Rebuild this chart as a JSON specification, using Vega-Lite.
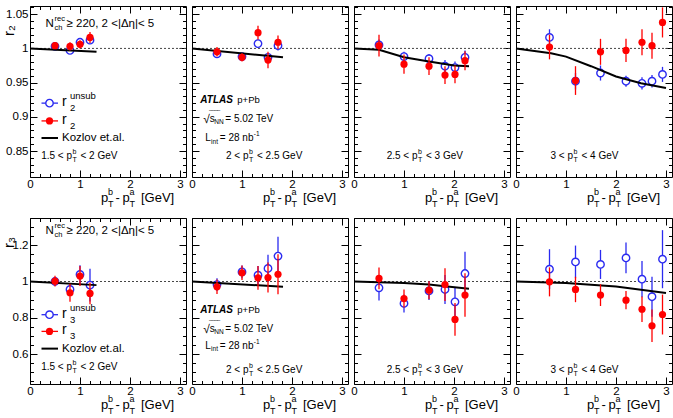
{
  "$schema": "https://vega.github.io/schema/vega-lite/v6.json",
  "padding": {"left": 0, "top": 5, "right": 0, "bottom": 0},
  "background": "white",
  "config": {
    "view": {"stroke": "black", "strokeWidth": 1},
    "axis": {"domain": false, "grid": false, "ticks": true, "tickColor": "black", "tickWidth": 1, "labelFont": "Liberation Sans", "labelFontSize": 11.5, "labelColor": "black", "labelFlush": false, "labelOverlap": false, "titleFont": "Liberation Sans", "titleColor": "black"},
    "text": {"font": "Liberation Sans", "color": "black"}
  },
  "datasets": {
    "one": [{}],
    "pts": [
      {"row": "r2", "bin": 1, "kind": "unsub", "x": 0.5, "v": 1.003, "lo": 0.999, "hi": 1.007},
      {"row": "r2", "bin": 1, "kind": "unsub", "x": 0.8, "v": 0.997, "lo": 0.993, "hi": 1.001},
      {"row": "r2", "bin": 1, "kind": "unsub", "x": 1.0, "v": 1.009, "lo": 1.005, "hi": 1.013},
      {"row": "r2", "bin": 1, "kind": "unsub", "x": 1.2, "v": 1.012, "lo": 1.007, "hi": 1.017},
      {"row": "r2", "bin": 1, "kind": "sub", "x": 0.5, "v": 1.004, "lo": 0.999, "hi": 1.009},
      {"row": "r2", "bin": 1, "kind": "sub", "x": 0.8, "v": 1.003, "lo": 0.997, "hi": 1.009},
      {"row": "r2", "bin": 1, "kind": "sub", "x": 1.0, "v": 1.006, "lo": 1.0, "hi": 1.012},
      {"row": "r2", "bin": 1, "kind": "sub", "x": 1.2, "v": 1.016, "lo": 1.008, "hi": 1.024},
      {"row": "r2", "bin": 2, "kind": "unsub", "x": 0.5, "v": 0.992, "lo": 0.987, "hi": 0.997},
      {"row": "r2", "bin": 2, "kind": "unsub", "x": 1.0, "v": 0.988, "lo": 0.984, "hi": 0.992},
      {"row": "r2", "bin": 2, "kind": "unsub", "x": 1.32, "v": 1.007, "lo": 1.001, "hi": 1.013},
      {"row": "r2", "bin": 2, "kind": "unsub", "x": 1.52, "v": 0.987, "lo": 0.981, "hi": 0.993},
      {"row": "r2", "bin": 2, "kind": "unsub", "x": 1.72, "v": 1.004, "lo": 0.997, "hi": 1.011},
      {"row": "r2", "bin": 2, "kind": "sub", "x": 0.5, "v": 0.995, "lo": 0.988, "hi": 1.002},
      {"row": "r2", "bin": 2, "kind": "sub", "x": 1.0, "v": 0.987, "lo": 0.981, "hi": 0.993},
      {"row": "r2", "bin": 2, "kind": "sub", "x": 1.32, "v": 1.023, "lo": 1.013, "hi": 1.033},
      {"row": "r2", "bin": 2, "kind": "sub", "x": 1.52, "v": 0.983, "lo": 0.971, "hi": 0.995},
      {"row": "r2", "bin": 2, "kind": "sub", "x": 1.72, "v": 1.009, "lo": 0.999, "hi": 1.019},
      {"row": "r2", "bin": 3, "kind": "unsub", "x": 0.5, "v": 1.005, "lo": 0.997, "hi": 1.013},
      {"row": "r2", "bin": 3, "kind": "unsub", "x": 1.0, "v": 0.988, "lo": 0.981, "hi": 0.995},
      {"row": "r2", "bin": 3, "kind": "unsub", "x": 1.5, "v": 0.985, "lo": 0.978, "hi": 0.992},
      {"row": "r2", "bin": 3, "kind": "unsub", "x": 1.82, "v": 0.974, "lo": 0.965, "hi": 0.983},
      {"row": "r2", "bin": 3, "kind": "unsub", "x": 2.02, "v": 0.972, "lo": 0.963, "hi": 0.981},
      {"row": "r2", "bin": 3, "kind": "unsub", "x": 2.22, "v": 0.987, "lo": 0.977, "hi": 0.997},
      {"row": "r2", "bin": 3, "kind": "sub", "x": 0.5, "v": 1.004, "lo": 0.988, "hi": 1.02},
      {"row": "r2", "bin": 3, "kind": "sub", "x": 1.0, "v": 0.977, "lo": 0.963, "hi": 0.991},
      {"row": "r2", "bin": 3, "kind": "sub", "x": 1.5, "v": 0.974, "lo": 0.961, "hi": 0.987},
      {"row": "r2", "bin": 3, "kind": "sub", "x": 1.82, "v": 0.961, "lo": 0.948, "hi": 0.974},
      {"row": "r2", "bin": 3, "kind": "sub", "x": 2.02, "v": 0.962, "lo": 0.949, "hi": 0.975},
      {"row": "r2", "bin": 3, "kind": "sub", "x": 2.22, "v": 0.982, "lo": 0.968, "hi": 0.996},
      {"row": "r2", "bin": 4, "kind": "unsub", "x": 0.67, "v": 1.016, "lo": 1.004, "hi": 1.028},
      {"row": "r2", "bin": 4, "kind": "unsub", "x": 1.19, "v": 0.952, "lo": 0.94, "hi": 0.964},
      {"row": "r2", "bin": 4, "kind": "unsub", "x": 1.69, "v": 0.964, "lo": 0.953, "hi": 0.975},
      {"row": "r2", "bin": 4, "kind": "unsub", "x": 2.2, "v": 0.952, "lo": 0.944, "hi": 0.96},
      {"row": "r2", "bin": 4, "kind": "unsub", "x": 2.52, "v": 0.949, "lo": 0.94, "hi": 0.958},
      {"row": "r2", "bin": 4, "kind": "unsub", "x": 2.72, "v": 0.952, "lo": 0.943, "hi": 0.961},
      {"row": "r2", "bin": 4, "kind": "unsub", "x": 2.93, "v": 0.962, "lo": 0.951, "hi": 0.973},
      {"row": "r2", "bin": 4, "kind": "sub", "x": 0.67, "v": 1.002, "lo": 0.984, "hi": 1.02},
      {"row": "r2", "bin": 4, "kind": "sub", "x": 1.19, "v": 0.953, "lo": 0.932, "hi": 0.974},
      {"row": "r2", "bin": 4, "kind": "sub", "x": 1.69, "v": 0.995, "lo": 0.976, "hi": 1.014},
      {"row": "r2", "bin": 4, "kind": "sub", "x": 2.2, "v": 0.997, "lo": 0.98, "hi": 1.014},
      {"row": "r2", "bin": 4, "kind": "sub", "x": 2.52, "v": 1.009, "lo": 0.99, "hi": 1.028},
      {"row": "r2", "bin": 4, "kind": "sub", "x": 2.72, "v": 1.004, "lo": 0.985, "hi": 1.023},
      {"row": "r2", "bin": 4, "kind": "sub", "x": 2.93, "v": 1.038, "lo": 1.016, "hi": 1.06},
      {"row": "r3", "bin": 1, "kind": "unsub", "x": 0.5, "v": 1.0, "lo": 0.98, "hi": 1.02},
      {"row": "r3", "bin": 1, "kind": "unsub", "x": 0.8, "v": 0.956, "lo": 0.926, "hi": 0.986},
      {"row": "r3", "bin": 1, "kind": "unsub", "x": 1.0, "v": 1.039, "lo": 0.989, "hi": 1.089},
      {"row": "r3", "bin": 1, "kind": "unsub", "x": 1.2, "v": 0.98, "lo": 0.89, "hi": 1.07},
      {"row": "r3", "bin": 1, "kind": "sub", "x": 0.5, "v": 1.002, "lo": 0.972, "hi": 1.032},
      {"row": "r3", "bin": 1, "kind": "sub", "x": 0.8, "v": 0.938, "lo": 0.888, "hi": 0.988},
      {"row": "r3", "bin": 1, "kind": "sub", "x": 1.0, "v": 1.03, "lo": 0.975, "hi": 1.085},
      {"row": "r3", "bin": 1, "kind": "sub", "x": 1.2, "v": 0.934, "lo": 0.874, "hi": 0.994},
      {"row": "r3", "bin": 2, "kind": "unsub", "x": 0.5, "v": 0.983, "lo": 0.948, "hi": 1.018},
      {"row": "r3", "bin": 2, "kind": "unsub", "x": 1.0, "v": 1.053, "lo": 1.018, "hi": 1.088},
      {"row": "r3", "bin": 2, "kind": "unsub", "x": 1.32, "v": 1.035, "lo": 0.985, "hi": 1.085},
      {"row": "r3", "bin": 2, "kind": "unsub", "x": 1.52, "v": 1.072, "lo": 0.997, "hi": 1.147},
      {"row": "r3", "bin": 2, "kind": "unsub", "x": 1.72, "v": 1.14, "lo": 1.034, "hi": 1.246},
      {"row": "r3", "bin": 2, "kind": "sub", "x": 0.5, "v": 0.971, "lo": 0.931, "hi": 1.011},
      {"row": "r3", "bin": 2, "kind": "sub", "x": 1.0, "v": 1.048, "lo": 1.008, "hi": 1.088},
      {"row": "r3", "bin": 2, "kind": "sub", "x": 1.32, "v": 1.02, "lo": 0.955, "hi": 1.085},
      {"row": "r3", "bin": 2, "kind": "sub", "x": 1.52, "v": 1.022, "lo": 0.939, "hi": 1.105},
      {"row": "r3", "bin": 2, "kind": "sub", "x": 1.72, "v": 1.04, "lo": 0.93, "hi": 1.15},
      {"row": "r3", "bin": 3, "kind": "unsub", "x": 0.5, "v": 0.965, "lo": 0.895, "hi": 1.035},
      {"row": "r3", "bin": 3, "kind": "unsub", "x": 1.0, "v": 0.879, "lo": 0.829, "hi": 0.929},
      {"row": "r3", "bin": 3, "kind": "unsub", "x": 1.5, "v": 0.948, "lo": 0.898, "hi": 0.998},
      {"row": "r3", "bin": 3, "kind": "unsub", "x": 1.82, "v": 0.956, "lo": 0.876, "hi": 1.036},
      {"row": "r3", "bin": 3, "kind": "unsub", "x": 2.02, "v": 0.888, "lo": 0.808, "hi": 0.968},
      {"row": "r3", "bin": 3, "kind": "unsub", "x": 2.22, "v": 1.044, "lo": 0.924, "hi": 1.164},
      {"row": "r3", "bin": 3, "kind": "sub", "x": 0.5, "v": 1.017, "lo": 0.957, "hi": 1.077},
      {"row": "r3", "bin": 3, "kind": "sub", "x": 1.0, "v": 0.906, "lo": 0.856, "hi": 0.956},
      {"row": "r3", "bin": 3, "kind": "sub", "x": 1.5, "v": 0.952, "lo": 0.902, "hi": 1.002},
      {"row": "r3", "bin": 3, "kind": "sub", "x": 1.82, "v": 0.983, "lo": 0.893, "hi": 1.073},
      {"row": "r3", "bin": 3, "kind": "sub", "x": 2.02, "v": 0.791, "lo": 0.701, "hi": 0.881},
      {"row": "r3", "bin": 3, "kind": "sub", "x": 2.22, "v": 0.925, "lo": 0.805, "hi": 1.045},
      {"row": "r3", "bin": 4, "kind": "unsub", "x": 0.67, "v": 1.068, "lo": 0.958, "hi": 1.178},
      {"row": "r3", "bin": 4, "kind": "unsub", "x": 1.19, "v": 1.108, "lo": 1.018, "hi": 1.198},
      {"row": "r3", "bin": 4, "kind": "unsub", "x": 1.69, "v": 1.094, "lo": 1.014, "hi": 1.174},
      {"row": "r3", "bin": 4, "kind": "unsub", "x": 2.2, "v": 1.13, "lo": 1.045, "hi": 1.215},
      {"row": "r3", "bin": 4, "kind": "unsub", "x": 2.52, "v": 1.013, "lo": 0.913, "hi": 1.113},
      {"row": "r3", "bin": 4, "kind": "unsub", "x": 2.72, "v": 0.916, "lo": 0.806, "hi": 1.026},
      {"row": "r3", "bin": 4, "kind": "unsub", "x": 2.93, "v": 1.123, "lo": 0.963, "hi": 1.283},
      {"row": "r3", "bin": 4, "kind": "sub", "x": 0.67, "v": 0.998, "lo": 0.918, "hi": 1.078},
      {"row": "r3", "bin": 4, "kind": "sub", "x": 1.19, "v": 0.956, "lo": 0.886, "hi": 1.026},
      {"row": "r3", "bin": 4, "kind": "sub", "x": 1.69, "v": 0.925, "lo": 0.865, "hi": 0.985},
      {"row": "r3", "bin": 4, "kind": "sub", "x": 2.2, "v": 0.897, "lo": 0.847, "hi": 0.947},
      {"row": "r3", "bin": 4, "kind": "sub", "x": 2.52, "v": 0.847, "lo": 0.777, "hi": 0.917},
      {"row": "r3", "bin": 4, "kind": "sub", "x": 2.72, "v": 0.756, "lo": 0.666, "hi": 0.846},
      {"row": "r3", "bin": 4, "kind": "sub", "x": 2.93, "v": 0.818, "lo": 0.708, "hi": 0.928}
    ],
    "koz": [
      {"row": "r2", "bin": 1, "x": 0, "v": 1.0}, {"row": "r2", "bin": 1, "x": 1.33, "v": 0.995},
      {"row": "r2", "bin": 2, "x": 0, "v": 1.0}, {"row": "r2", "bin": 2, "x": 1.82, "v": 0.987},
      {"row": "r2", "bin": 3, "x": 0, "v": 1.0}, {"row": "r2", "bin": 3, "x": 0.5, "v": 0.998}, {"row": "r2", "bin": 3, "x": 1.0, "v": 0.987}, {"row": "r2", "bin": 3, "x": 1.5, "v": 0.981}, {"row": "r2", "bin": 3, "x": 2.0, "v": 0.975}, {"row": "r2", "bin": 3, "x": 2.3, "v": 0.974},
      {"row": "r2", "bin": 4, "x": 0, "v": 1.0}, {"row": "r2", "bin": 4, "x": 0.7, "v": 0.993}, {"row": "r2", "bin": 4, "x": 1.0, "v": 0.988}, {"row": "r2", "bin": 4, "x": 1.5, "v": 0.974}, {"row": "r2", "bin": 4, "x": 2.0, "v": 0.959}, {"row": "r2", "bin": 4, "x": 2.5, "v": 0.949}, {"row": "r2", "bin": 4, "x": 3.0, "v": 0.942},
      {"row": "r3", "bin": 1, "x": 0, "v": 1.0}, {"row": "r3", "bin": 1, "x": 1.33, "v": 0.98},
      {"row": "r3", "bin": 2, "x": 0, "v": 1.0}, {"row": "r3", "bin": 2, "x": 1.82, "v": 0.971},
      {"row": "r3", "bin": 3, "x": 0, "v": 1.0}, {"row": "r3", "bin": 3, "x": 1.0, "v": 0.992}, {"row": "r3", "bin": 3, "x": 1.5, "v": 0.983}, {"row": "r3", "bin": 3, "x": 1.82, "v": 0.974}, {"row": "r3", "bin": 3, "x": 2.3, "v": 0.96},
      {"row": "r3", "bin": 4, "x": 0, "v": 1.0}, {"row": "r3", "bin": 4, "x": 1.0, "v": 0.992}, {"row": "r3", "bin": 4, "x": 2.0, "v": 0.972}, {"row": "r3", "bin": 4, "x": 3.0, "v": 0.937}
    ]
  },
  "spacing": 7,
  "vconcat": [
    {
      "bounds": "flush",
      "spacing": 6,
      "hconcat": [
        {
          "width": 156, "height": 171,
          "resolve": {"axis": {"x": "independent", "y": "independent"}},
          "layer": [
            {"data": {"name": "one"}, "mark": {"type": "rule", "strokeDash": [2, 2], "color": "#444", "strokeWidth": 1},
             "encoding": {"y": {"datum": 1, "type": "quantitative", "scale": {"domain": [0.812, 1.062], "nice": false, "zero": false},
               "axis": {"orient": "left", "values": [0.85, 0.9, 0.95, 1, 1.05], "format": "~g", "tickSize": -7, "labelPadding": 9, "title": "r₂", "titleX": -22, "titleY": 24, "titleAngle": -90, "titleAlign": "center", "titleBaseline": "middle", "titleFontSize": 15, "titleFontWeight": "normal"}}}},
            {"data": {"name": "pts"}, "transform": [{"filter": "datum.row == 'r2' && datum.bin == 1 && datum.kind == 'unsub'"}],
             "mark": {"type": "rule", "color": "#2a2af0", "strokeWidth": 1.3},
             "encoding": {"x": {"field": "x", "type": "quantitative", "scale": {"domain": [0, 3.12], "nice": false, "zero": false}, "axis": {"orient": "top", "values": [0, 1, 2, 3], "tickSize": -7, "labels": false, "title": null}},
               "y": {"field": "lo", "type": "quantitative", "axis": {"orient": "left", "values": [0.82, 0.83, 0.84, 0.85, 0.86, 0.87, 0.88, 0.89, 0.9, 0.91, 0.92, 0.93, 0.94, 0.95, 0.96, 0.97, 0.98, 0.99, 1, 1.01, 1.02, 1.03, 1.04, 1.05, 1.06], "tickSize": -3.5, "labels": false, "title": null}},
               "y2": {"field": "hi"}}},
            {"data": {"name": "pts"}, "transform": [{"filter": "datum.row == 'r2' && datum.bin == 1 && datum.kind == 'unsub'"}],
             "mark": {"type": "point", "shape": "circle", "filled": true, "fill": "white", "stroke": "#2a2af0", "strokeWidth": 1.4, "size": 55, "opacity": 1},
             "encoding": {"x": {"field": "x", "type": "quantitative", "axis": {"orient": "top", "values": [0.2, 0.4, 0.6, 0.8, 1.2, 1.4, 1.6, 1.8, 2.2, 2.4, 2.6, 2.8], "tickSize": -3.5, "labels": false, "title": null}},
               "y": {"field": "v", "type": "quantitative", "axis": null}}},
            {"data": {"name": "koz"}, "transform": [{"filter": "datum.row == 'r2' && datum.bin == 1"}],
             "mark": {"type": "line", "color": "black", "strokeWidth": 2},
             "encoding": {"x": {"field": "x", "type": "quantitative", "axis": {"orient": "bottom", "values": [0, 1, 2, 3], "format": "d", "tickSize": -7, "labelPadding": 8, "title": null}},
               "y": {"field": "v", "type": "quantitative", "axis": {"orient": "right", "values": [0.85, 0.9, 0.95, 1, 1.05], "tickSize": -7, "labels": false, "title": null}}}},
            {"data": {"name": "pts"}, "transform": [{"filter": "datum.row == 'r2' && datum.bin == 1 && datum.kind == 'sub'"}],
             "mark": {"type": "rule", "color": "#ff0000", "strokeWidth": 1.3},
             "encoding": {"x": {"field": "x", "type": "quantitative", "axis": {"orient": "bottom", "values": [0.2, 0.4, 0.6, 0.8, 1.2, 1.4, 1.6, 1.8, 2.2, 2.4, 2.6, 2.8], "tickSize": -3.5, "labels": false, "title": null}},
               "y": {"field": "lo", "type": "quantitative", "axis": {"orient": "right", "values": [0.82, 0.83, 0.84, 0.85, 0.86, 0.87, 0.88, 0.89, 0.9, 0.91, 0.92, 0.93, 0.94, 0.95, 0.96, 0.97, 0.98, 0.99, 1, 1.01, 1.02, 1.03, 1.04, 1.05, 1.06], "tickSize": -3.5, "labels": false, "title": null}},
               "y2": {"field": "hi"}}},
            {"data": {"name": "pts"}, "transform": [{"filter": "datum.row == 'r2' && datum.bin == 1 && datum.kind == 'sub'"}],
             "mark": {"type": "point", "shape": "circle", "filled": true, "color": "#ff0000", "size": 52, "opacity": 1},
             "encoding": {"x": {"field": "x", "type": "quantitative", "axis": null}, "y": {"field": "v", "type": "quantitative", "axis": null}}},
            {"data": {"name": "one"}, "encoding": {"x": {"datum": 0.31, "type": "quantitative", "axis": null}, "y": {"datum": 1.036, "type": "quantitative", "axis": null}},
             "layer": [
               {"mark": {"type": "text", "text": "N", "align": "left", "baseline": "middle", "fontSize": 11.5}},
               {"mark": {"type": "text", "text": "rec", "align": "left", "baseline": "middle", "fontSize": 7.5, "dx": 9, "dy": -5}},
               {"mark": {"type": "text", "text": "ch", "align": "left", "baseline": "middle", "fontSize": 7.5, "dx": 9, "dy": 4}},
               {"mark": {"type": "text", "text": "≥ 220, 2 <|Δη|< 5", "align": "left", "baseline": "middle", "fontSize": 11.5, "dx": 21}}
             ]},
            {"data": {"name": "one"}, "mark": {"type": "rule", "color": "#2a2af0", "strokeWidth": 1.3},
             "encoding": {"x": {"datum": 0.23, "type": "quantitative", "axis": null}, "x2": {"datum": 0.56}, "y": {"datum": 0.92, "type": "quantitative", "axis": null}}},
            {"data": {"name": "one"}, "mark": {"type": "point", "shape": "circle", "filled": true, "fill": "white", "stroke": "#2a2af0", "strokeWidth": 1.4, "size": 55, "opacity": 1},
             "encoding": {"x": {"datum": 0.39, "type": "quantitative", "axis": null}, "y": {"datum": 0.92, "type": "quantitative", "axis": null}}},
            {"data": {"name": "one"}, "mark": {"type": "rule", "color": "#ff0000", "strokeWidth": 1.3},
             "encoding": {"x": {"datum": 0.23, "type": "quantitative", "axis": null}, "x2": {"datum": 0.56}, "y": {"datum": 0.894, "type": "quantitative", "axis": null}}},
            {"data": {"name": "one"}, "mark": {"type": "point", "shape": "circle", "filled": true, "color": "#ff0000", "size": 52, "opacity": 1},
             "encoding": {"x": {"datum": 0.39, "type": "quantitative", "axis": null}, "y": {"datum": 0.894, "type": "quantitative", "axis": null}}},
            {"data": {"name": "one"}, "mark": {"type": "rule", "color": "black", "strokeWidth": 2},
             "encoding": {"x": {"datum": 0.23, "type": "quantitative", "axis": null}, "x2": {"datum": 0.56}, "y": {"datum": 0.869, "type": "quantitative", "axis": null}}},
            {"data": {"name": "one"}, "encoding": {"x": {"datum": 0.64, "type": "quantitative", "axis": null}, "y": {"datum": 0.92, "type": "quantitative", "axis": null}},
             "layer": [
               {"mark": {"type": "text", "text": "r", "align": "left", "baseline": "middle", "fontSize": 14, "dy": -1}},
               {"mark": {"type": "text", "text": "unsub", "align": "left", "baseline": "middle", "fontSize": 9.5, "dx": 8, "dy": -7}},
               {"mark": {"type": "text", "text": "2", "align": "left", "baseline": "middle", "fontSize": 9.5, "dx": 8, "dy": 5}}
             ]},
            {"data": {"name": "one"}, "encoding": {"x": {"datum": 0.64, "type": "quantitative", "axis": null}, "y": {"datum": 0.894, "type": "quantitative", "axis": null}},
             "layer": [
               {"mark": {"type": "text", "text": "r", "align": "left", "baseline": "middle", "fontSize": 14, "dy": -1}},
               {"mark": {"type": "text", "text": "2", "align": "left", "baseline": "middle", "fontSize": 9.5, "dx": 8, "dy": 5}}
             ]},
            {"data": {"name": "one"}, "mark": {"type": "text", "text": "Kozlov et.al.", "align": "left", "baseline": "middle", "fontSize": 11.5},
             "encoding": {"x": {"datum": 0.64, "type": "quantitative", "axis": null}, "y": {"datum": 0.869, "type": "quantitative", "axis": null}}},
            {"data": {"name": "one"}, "encoding": {"x": {"datum": 0.84, "type": "quantitative", "axis": null}, "y": {"datum": 0.842, "type": "quantitative", "axis": null}},
             "layer": [
               {"mark": {"type": "text", "text": "1.5 < p", "align": "right", "baseline": "middle", "fontSize": 10}},
               {"mark": {"type": "text", "text": "b", "align": "left", "baseline": "middle", "fontSize": 7, "dx": 0.5, "dy": -4}},
               {"mark": {"type": "text", "text": "T", "align": "left", "baseline": "middle", "fontSize": 7, "dx": 0.5, "dy": 4}},
               {"mark": {"type": "text", "text": "< 2 GeV", "align": "left", "baseline": "middle", "fontSize": 10, "dx": 8.5}}
             ]},
            {"data": {"name": "one"}, "encoding": {"x": {"datum": 1.42, "type": "quantitative", "axis": null}, "y": {"datum": 0.812, "type": "quantitative", "axis": null}},
             "layer": [
               {"mark": {"type": "text", "text": "p", "align": "left", "baseline": "middle", "fontSize": 13, "dy": 21}},
               {"mark": {"type": "text", "text": "b", "align": "left", "baseline": "middle", "fontSize": 9, "dx": 7, "dy": 15}},
               {"mark": {"type": "text", "text": "T", "align": "left", "baseline": "middle", "fontSize": 9, "dx": 7, "dy": 27}},
               {"mark": {"type": "text", "text": "-", "align": "left", "baseline": "middle", "fontSize": 13, "dx": 14.5, "dy": 21}},
               {"mark": {"type": "text", "text": "p", "align": "left", "baseline": "middle", "fontSize": 13, "dx": 21.5, "dy": 21}},
               {"mark": {"type": "text", "text": "a", "align": "left", "baseline": "middle", "fontSize": 9, "dx": 28.5, "dy": 15}},
               {"mark": {"type": "text", "text": "T", "align": "left", "baseline": "middle", "fontSize": 9, "dx": 28.5, "dy": 27}},
               {"mark": {"type": "text", "text": "[GeV]", "align": "left", "baseline": "middle", "fontSize": 13, "dx": 40, "dy": 21}}
             ]}
          ]
        },
        {
          "width": 156, "height": 171,
          "resolve": {"axis": {"x": "independent", "y": "independent"}},
          "layer": [
            {"data": {"name": "one"}, "mark": {"type": "rule", "strokeDash": [2, 2], "color": "#444", "strokeWidth": 1},
             "encoding": {"y": {"datum": 1, "type": "quantitative", "scale": {"domain": [0.812, 1.062], "nice": false, "zero": false},
               "axis": {"orient": "left", "values": [0.85, 0.9, 0.95, 1, 1.05], "tickSize": -7, "labels": false, "title": null}}}},
            {"data": {"name": "pts"}, "transform": [{"filter": "datum.row == 'r2' && datum.bin == 2 && datum.kind == 'unsub'"}],
             "mark": {"type": "rule", "color": "#2a2af0", "strokeWidth": 1.3},
             "encoding": {"x": {"field": "x", "type": "quantitative", "scale": {"domain": [0, 3.12], "nice": false, "zero": false}, "axis": {"orient": "top", "values": [0, 1, 2, 3], "tickSize": -7, "labels": false, "title": null}},
               "y": {"field": "lo", "type": "quantitative", "axis": {"orient": "left", "values": [0.82, 0.83, 0.84, 0.85, 0.86, 0.87, 0.88, 0.89, 0.9, 0.91, 0.92, 0.93, 0.94, 0.95, 0.96, 0.97, 0.98, 0.99, 1, 1.01, 1.02, 1.03, 1.04, 1.05, 1.06], "tickSize": -3.5, "labels": false, "title": null}},
               "y2": {"field": "hi"}}},
            {"data": {"name": "pts"}, "transform": [{"filter": "datum.row == 'r2' && datum.bin == 2 && datum.kind == 'unsub'"}],
             "mark": {"type": "point", "shape": "circle", "filled": true, "fill": "white", "stroke": "#2a2af0", "strokeWidth": 1.4, "size": 55, "opacity": 1},
             "encoding": {"x": {"field": "x", "type": "quantitative", "axis": {"orient": "top", "values": [0.2, 0.4, 0.6, 0.8, 1.2, 1.4, 1.6, 1.8, 2.2, 2.4, 2.6, 2.8], "tickSize": -3.5, "labels": false, "title": null}},
               "y": {"field": "v", "type": "quantitative", "axis": null}}},
            {"data": {"name": "koz"}, "transform": [{"filter": "datum.row == 'r2' && datum.bin == 2"}],
             "mark": {"type": "line", "color": "black", "strokeWidth": 2},
             "encoding": {"x": {"field": "x", "type": "quantitative", "axis": {"orient": "bottom", "values": [0, 1, 2, 3], "format": "d", "tickSize": -7, "labelPadding": 8, "title": null}},
               "y": {"field": "v", "type": "quantitative", "axis": {"orient": "right", "values": [0.85, 0.9, 0.95, 1, 1.05], "tickSize": -7, "labels": false, "title": null}}}},
            {"data": {"name": "pts"}, "transform": [{"filter": "datum.row == 'r2' && datum.bin == 2 && datum.kind == 'sub'"}],
             "mark": {"type": "rule", "color": "#ff0000", "strokeWidth": 1.3},
             "encoding": {"x": {"field": "x", "type": "quantitative", "axis": {"orient": "bottom", "values": [0.2, 0.4, 0.6, 0.8, 1.2, 1.4, 1.6, 1.8, 2.2, 2.4, 2.6, 2.8], "tickSize": -3.5, "labels": false, "title": null}},
               "y": {"field": "lo", "type": "quantitative", "axis": {"orient": "right", "values": [0.82, 0.83, 0.84, 0.85, 0.86, 0.87, 0.88, 0.89, 0.9, 0.91, 0.92, 0.93, 0.94, 0.95, 0.96, 0.97, 0.98, 0.99, 1, 1.01, 1.02, 1.03, 1.04, 1.05, 1.06], "tickSize": -3.5, "labels": false, "title": null}},
               "y2": {"field": "hi"}}},
            {"data": {"name": "pts"}, "transform": [{"filter": "datum.row == 'r2' && datum.bin == 2 && datum.kind == 'sub'"}],
             "mark": {"type": "point", "shape": "circle", "filled": true, "color": "#ff0000", "size": 52, "opacity": 1},
             "encoding": {"x": {"field": "x", "type": "quantitative", "axis": null}, "y": {"field": "v", "type": "quantitative", "axis": null}}},
            {"data": {"name": "one"}, "encoding": {"x": {"datum": 0.166, "type": "quantitative", "axis": null}, "y": {"datum": 0.925, "type": "quantitative", "axis": null}},
             "layer": [
               {"mark": {"type": "text", "text": "ATLAS", "align": "left", "baseline": "middle", "fontSize": 10, "fontWeight": "bold", "fontStyle": "italic"}},
               {"mark": {"type": "text", "text": "p+Pb", "align": "left", "baseline": "middle", "fontSize": 9.5, "dx": 37}}
             ]},
            {"data": {"name": "one"}, "encoding": {"x": {"datum": 0.166, "type": "quantitative", "axis": null}, "y": {"datum": 0.897, "type": "quantitative", "axis": null}},
             "layer": [
               {"mark": {"type": "text", "text": "√", "align": "left", "baseline": "middle", "fontSize": 12, "dx": 3}},
               {"mark": {"type": "text", "text": "‾‾‾‾", "align": "left", "baseline": "middle", "fontSize": 8, "dx": 9, "dy": -5}},
               {"mark": {"type": "text", "text": "s", "align": "left", "baseline": "middle", "fontSize": 10, "dx": 9.5}},
               {"mark": {"type": "text", "text": "NN", "align": "left", "baseline": "middle", "fontSize": 6.5, "dx": 14, "dy": 3.5}},
               {"mark": {"type": "text", "text": "= 5.02 TeV", "align": "left", "baseline": "middle", "fontSize": 10, "dx": 25}}
             ]},
            {"data": {"name": "one"}, "encoding": {"x": {"datum": 0.166, "type": "quantitative", "axis": null}, "y": {"datum": 0.869, "type": "quantitative", "axis": null}},
             "layer": [
               {"mark": {"type": "text", "text": "L", "align": "left", "baseline": "middle", "fontSize": 10, "dx": 5}},
               {"mark": {"type": "text", "text": "int", "align": "left", "baseline": "middle", "fontSize": 6.5, "dx": 10.8, "dy": 3.5}},
               {"mark": {"type": "text", "text": "= 28 nb", "align": "left", "baseline": "middle", "fontSize": 10, "dx": 19.5}},
               {"mark": {"type": "text", "text": "-1", "align": "left", "baseline": "middle", "fontSize": 6.5, "dx": 53.5, "dy": -4}}
             ]},
            {"data": {"name": "one"}, "encoding": {"x": {"datum": 1.13, "type": "quantitative", "axis": null}, "y": {"datum": 0.842, "type": "quantitative", "axis": null}},
             "layer": [
               {"mark": {"type": "text", "text": "2 < p", "align": "right", "baseline": "middle", "fontSize": 10}},
               {"mark": {"type": "text", "text": "b", "align": "left", "baseline": "middle", "fontSize": 7, "dx": 0.5, "dy": -4}},
               {"mark": {"type": "text", "text": "T", "align": "left", "baseline": "middle", "fontSize": 7, "dx": 0.5, "dy": 4}},
               {"mark": {"type": "text", "text": "< 2.5 GeV", "align": "left", "baseline": "middle", "fontSize": 10, "dx": 8.5}}
             ]},
            {"data": {"name": "one"}, "encoding": {"x": {"datum": 1.42, "type": "quantitative", "axis": null}, "y": {"datum": 0.812, "type": "quantitative", "axis": null}},
             "layer": [
               {"mark": {"type": "text", "text": "p", "align": "left", "baseline": "middle", "fontSize": 13, "dy": 21}},
               {"mark": {"type": "text", "text": "b", "align": "left", "baseline": "middle", "fontSize": 9, "dx": 7, "dy": 15}},
               {"mark": {"type": "text", "text": "T", "align": "left", "baseline": "middle", "fontSize": 9, "dx": 7, "dy": 27}},
               {"mark": {"type": "text", "text": "-", "align": "left", "baseline": "middle", "fontSize": 13, "dx": 14.5, "dy": 21}},
               {"mark": {"type": "text", "text": "p", "align": "left", "baseline": "middle", "fontSize": 13, "dx": 21.5, "dy": 21}},
               {"mark": {"type": "text", "text": "a", "align": "left", "baseline": "middle", "fontSize": 9, "dx": 28.5, "dy": 15}},
               {"mark": {"type": "text", "text": "T", "align": "left", "baseline": "middle", "fontSize": 9, "dx": 28.5, "dy": 27}},
               {"mark": {"type": "text", "text": "[GeV]", "align": "left", "baseline": "middle", "fontSize": 13, "dx": 40, "dy": 21}}
             ]}
          ]
        },
        {
          "width": 156, "height": 171,
          "resolve": {"axis": {"x": "independent", "y": "independent"}},
          "layer": [
            {"data": {"name": "one"}, "mark": {"type": "rule", "strokeDash": [2, 2], "color": "#444", "strokeWidth": 1},
             "encoding": {"y": {"datum": 1, "type": "quantitative", "scale": {"domain": [0.812, 1.062], "nice": false, "zero": false},
               "axis": {"orient": "left", "values": [0.85, 0.9, 0.95, 1, 1.05], "tickSize": -7, "labels": false, "title": null}}}},
            {"data": {"name": "pts"}, "transform": [{"filter": "datum.row == 'r2' && datum.bin == 3 && datum.kind == 'unsub'"}],
             "mark": {"type": "rule", "color": "#2a2af0", "strokeWidth": 1.3},
             "encoding": {"x": {"field": "x", "type": "quantitative", "scale": {"domain": [0, 3.12], "nice": false, "zero": false}, "axis": {"orient": "top", "values": [0, 1, 2, 3], "tickSize": -7, "labels": false, "title": null}},
               "y": {"field": "lo", "type": "quantitative", "axis": {"orient": "left", "values": [0.82, 0.83, 0.84, 0.85, 0.86, 0.87, 0.88, 0.89, 0.9, 0.91, 0.92, 0.93, 0.94, 0.95, 0.96, 0.97, 0.98, 0.99, 1, 1.01, 1.02, 1.03, 1.04, 1.05, 1.06], "tickSize": -3.5, "labels": false, "title": null}},
               "y2": {"field": "hi"}}},
            {"data": {"name": "pts"}, "transform": [{"filter": "datum.row == 'r2' && datum.bin == 3 && datum.kind == 'unsub'"}],
             "mark": {"type": "point", "shape": "circle", "filled": true, "fill": "white", "stroke": "#2a2af0", "strokeWidth": 1.4, "size": 55, "opacity": 1},
             "encoding": {"x": {"field": "x", "type": "quantitative", "axis": {"orient": "top", "values": [0.2, 0.4, 0.6, 0.8, 1.2, 1.4, 1.6, 1.8, 2.2, 2.4, 2.6, 2.8], "tickSize": -3.5, "labels": false, "title": null}},
               "y": {"field": "v", "type": "quantitative", "axis": null}}},
            {"data": {"name": "koz"}, "transform": [{"filter": "datum.row == 'r2' && datum.bin == 3"}],
             "mark": {"type": "line", "color": "black", "strokeWidth": 2},
             "encoding": {"x": {"field": "x", "type": "quantitative", "axis": {"orient": "bottom", "values": [0, 1, 2, 3], "format": "d", "tickSize": -7, "labelPadding": 8, "title": null}},
               "y": {"field": "v", "type": "quantitative", "axis": {"orient": "right", "values": [0.85, 0.9, 0.95, 1, 1.05], "tickSize": -7, "labels": false, "title": null}}}},
            {"data": {"name": "pts"}, "transform": [{"filter": "datum.row == 'r2' && datum.bin == 3 && datum.kind == 'sub'"}],
             "mark": {"type": "rule", "color": "#ff0000", "strokeWidth": 1.3},
             "encoding": {"x": {"field": "x", "type": "quantitative", "axis": {"orient": "bottom", "values": [0.2, 0.4, 0.6, 0.8, 1.2, 1.4, 1.6, 1.8, 2.2, 2.4, 2.6, 2.8], "tickSize": -3.5, "labels": false, "title": null}},
               "y": {"field": "lo", "type": "quantitative", "axis": {"orient": "right", "values": [0.82, 0.83, 0.84, 0.85, 0.86, 0.87, 0.88, 0.89, 0.9, 0.91, 0.92, 0.93, 0.94, 0.95, 0.96, 0.97, 0.98, 0.99, 1, 1.01, 1.02, 1.03, 1.04, 1.05, 1.06], "tickSize": -3.5, "labels": false, "title": null}},
               "y2": {"field": "hi"}}},
            {"data": {"name": "pts"}, "transform": [{"filter": "datum.row == 'r2' && datum.bin == 3 && datum.kind == 'sub'"}],
             "mark": {"type": "point", "shape": "circle", "filled": true, "color": "#ff0000", "size": 52, "opacity": 1},
             "encoding": {"x": {"field": "x", "type": "quantitative", "axis": null}, "y": {"field": "v", "type": "quantitative", "axis": null}}},
            {"data": {"name": "one"}, "encoding": {"x": {"datum": 1.27, "type": "quantitative", "axis": null}, "y": {"datum": 0.842, "type": "quantitative", "axis": null}},
             "layer": [
               {"mark": {"type": "text", "text": "2.5 < p", "align": "right", "baseline": "middle", "fontSize": 10}},
               {"mark": {"type": "text", "text": "b", "align": "left", "baseline": "middle", "fontSize": 7, "dx": 0.5, "dy": -4}},
               {"mark": {"type": "text", "text": "T", "align": "left", "baseline": "middle", "fontSize": 7, "dx": 0.5, "dy": 4}},
               {"mark": {"type": "text", "text": "< 3 GeV", "align": "left", "baseline": "middle", "fontSize": 10, "dx": 8.5}}
             ]},
            {"data": {"name": "one"}, "encoding": {"x": {"datum": 1.42, "type": "quantitative", "axis": null}, "y": {"datum": 0.812, "type": "quantitative", "axis": null}},
             "layer": [
               {"mark": {"type": "text", "text": "p", "align": "left", "baseline": "middle", "fontSize": 13, "dy": 21}},
               {"mark": {"type": "text", "text": "b", "align": "left", "baseline": "middle", "fontSize": 9, "dx": 7, "dy": 15}},
               {"mark": {"type": "text", "text": "T", "align": "left", "baseline": "middle", "fontSize": 9, "dx": 7, "dy": 27}},
               {"mark": {"type": "text", "text": "-", "align": "left", "baseline": "middle", "fontSize": 13, "dx": 14.5, "dy": 21}},
               {"mark": {"type": "text", "text": "p", "align": "left", "baseline": "middle", "fontSize": 13, "dx": 21.5, "dy": 21}},
               {"mark": {"type": "text", "text": "a", "align": "left", "baseline": "middle", "fontSize": 9, "dx": 28.5, "dy": 15}},
               {"mark": {"type": "text", "text": "T", "align": "left", "baseline": "middle", "fontSize": 9, "dx": 28.5, "dy": 27}},
               {"mark": {"type": "text", "text": "[GeV]", "align": "left", "baseline": "middle", "fontSize": 13, "dx": 40, "dy": 21}}
             ]}
          ]
        },
        {
          "width": 156, "height": 171,
          "resolve": {"axis": {"x": "independent", "y": "independent"}},
          "layer": [
            {"data": {"name": "one"}, "mark": {"type": "rule", "strokeDash": [2, 2], "color": "#444", "strokeWidth": 1},
             "encoding": {"y": {"datum": 1, "type": "quantitative", "scale": {"domain": [0.812, 1.062], "nice": false, "zero": false},
               "axis": {"orient": "left", "values": [0.85, 0.9, 0.95, 1, 1.05], "tickSize": -7, "labels": false, "title": null}}}},
            {"data": {"name": "pts"}, "transform": [{"filter": "datum.row == 'r2' && datum.bin == 4 && datum.kind == 'unsub'"}],
             "mark": {"type": "rule", "color": "#2a2af0", "strokeWidth": 1.3},
             "encoding": {"x": {"field": "x", "type": "quantitative", "scale": {"domain": [0, 3.12], "nice": false, "zero": false}, "axis": {"orient": "top", "values": [0, 1, 2, 3], "tickSize": -7, "labels": false, "title": null}},
               "y": {"field": "lo", "type": "quantitative", "axis": {"orient": "left", "values": [0.82, 0.83, 0.84, 0.85, 0.86, 0.87, 0.88, 0.89, 0.9, 0.91, 0.92, 0.93, 0.94, 0.95, 0.96, 0.97, 0.98, 0.99, 1, 1.01, 1.02, 1.03, 1.04, 1.05, 1.06], "tickSize": -3.5, "labels": false, "title": null}},
               "y2": {"field": "hi"}}},
            {"data": {"name": "pts"}, "transform": [{"filter": "datum.row == 'r2' && datum.bin == 4 && datum.kind == 'unsub'"}],
             "mark": {"type": "point", "shape": "circle", "filled": true, "fill": "white", "stroke": "#2a2af0", "strokeWidth": 1.4, "size": 55, "opacity": 1},
             "encoding": {"x": {"field": "x", "type": "quantitative", "axis": {"orient": "top", "values": [0.2, 0.4, 0.6, 0.8, 1.2, 1.4, 1.6, 1.8, 2.2, 2.4, 2.6, 2.8], "tickSize": -3.5, "labels": false, "title": null}},
               "y": {"field": "v", "type": "quantitative", "axis": null}}},
            {"data": {"name": "koz"}, "transform": [{"filter": "datum.row == 'r2' && datum.bin == 4"}],
             "mark": {"type": "line", "color": "black", "strokeWidth": 2},
             "encoding": {"x": {"field": "x", "type": "quantitative", "axis": {"orient": "bottom", "values": [0, 1, 2, 3], "format": "d", "tickSize": -7, "labelPadding": 8, "title": null}},
               "y": {"field": "v", "type": "quantitative", "axis": {"orient": "right", "values": [0.85, 0.9, 0.95, 1, 1.05], "tickSize": -7, "labels": false, "title": null}}}},
            {"data": {"name": "pts"}, "transform": [{"filter": "datum.row == 'r2' && datum.bin == 4 && datum.kind == 'sub'"}],
             "mark": {"type": "rule", "color": "#ff0000", "strokeWidth": 1.3},
             "encoding": {"x": {"field": "x", "type": "quantitative", "axis": {"orient": "bottom", "values": [0.2, 0.4, 0.6, 0.8, 1.2, 1.4, 1.6, 1.8, 2.2, 2.4, 2.6, 2.8], "tickSize": -3.5, "labels": false, "title": null}},
               "y": {"field": "lo", "type": "quantitative", "axis": {"orient": "right", "values": [0.82, 0.83, 0.84, 0.85, 0.86, 0.87, 0.88, 0.89, 0.9, 0.91, 0.92, 0.93, 0.94, 0.95, 0.96, 0.97, 0.98, 0.99, 1, 1.01, 1.02, 1.03, 1.04, 1.05, 1.06], "tickSize": -3.5, "labels": false, "title": null}},
               "y2": {"field": "hi"}}},
            {"data": {"name": "pts"}, "transform": [{"filter": "datum.row == 'r2' && datum.bin == 4 && datum.kind == 'sub'"}],
             "mark": {"type": "point", "shape": "circle", "filled": true, "color": "#ff0000", "size": 52, "opacity": 1},
             "encoding": {"x": {"field": "x", "type": "quantitative", "axis": null}, "y": {"field": "v", "type": "quantitative", "axis": null}}},
            {"data": {"name": "one"}, "encoding": {"x": {"datum": 1.14, "type": "quantitative", "axis": null}, "y": {"datum": 0.842, "type": "quantitative", "axis": null}},
             "layer": [
               {"mark": {"type": "text", "text": "3 < p", "align": "right", "baseline": "middle", "fontSize": 10}},
               {"mark": {"type": "text", "text": "b", "align": "left", "baseline": "middle", "fontSize": 7, "dx": 0.5, "dy": -4}},
               {"mark": {"type": "text", "text": "T", "align": "left", "baseline": "middle", "fontSize": 7, "dx": 0.5, "dy": 4}},
               {"mark": {"type": "text", "text": "< 4 GeV", "align": "left", "baseline": "middle", "fontSize": 10, "dx": 8.5}}
             ]},
            {"data": {"name": "one"}, "encoding": {"x": {"datum": 1.42, "type": "quantitative", "axis": null}, "y": {"datum": 0.812, "type": "quantitative", "axis": null}},
             "layer": [
               {"mark": {"type": "text", "text": "p", "align": "left", "baseline": "middle", "fontSize": 13, "dy": 21}},
               {"mark": {"type": "text", "text": "b", "align": "left", "baseline": "middle", "fontSize": 9, "dx": 7, "dy": 15}},
               {"mark": {"type": "text", "text": "T", "align": "left", "baseline": "middle", "fontSize": 9, "dx": 7, "dy": 27}},
               {"mark": {"type": "text", "text": "-", "align": "left", "baseline": "middle", "fontSize": 13, "dx": 14.5, "dy": 21}},
               {"mark": {"type": "text", "text": "p", "align": "left", "baseline": "middle", "fontSize": 13, "dx": 21.5, "dy": 21}},
               {"mark": {"type": "text", "text": "a", "align": "left", "baseline": "middle", "fontSize": 9, "dx": 28.5, "dy": 15}},
               {"mark": {"type": "text", "text": "T", "align": "left", "baseline": "middle", "fontSize": 9, "dx": 28.5, "dy": 27}},
               {"mark": {"type": "text", "text": "[GeV]", "align": "left", "baseline": "middle", "fontSize": 13, "dx": 40, "dy": 21}}
             ]}
          ]
        }
      ]
    },
    {
      "bounds": "flush",
      "spacing": 6,
      "hconcat": [
        {
          "width": 156, "height": 166,
          "resolve": {"axis": {"x": "independent", "y": "independent"}},
          "layer": [
            {"data": {"name": "one"}, "mark": {"type": "rule", "strokeDash": [2, 2], "color": "#444", "strokeWidth": 1},
             "encoding": {"y": {"datum": 1, "type": "quantitative", "scale": {"domain": [0.435, 1.35], "nice": false, "zero": false},
               "axis": {"orient": "left", "values": [0.6, 0.8, 1, 1.2], "format": "~g", "tickSize": -7, "labelPadding": 9, "title": "r₃", "titleX": -22, "titleY": 24, "titleAngle": -90, "titleAlign": "center", "titleBaseline": "middle", "titleFontSize": 15, "titleFontWeight": "normal"}}}},
            {"data": {"name": "pts"}, "transform": [{"filter": "datum.row == 'r3' && datum.bin == 1 && datum.kind == 'unsub'"}],
             "mark": {"type": "rule", "color": "#2a2af0", "strokeWidth": 1.3},
             "encoding": {"x": {"field": "x", "type": "quantitative", "scale": {"domain": [0, 3.12], "nice": false, "zero": false}, "axis": {"orient": "top", "values": [0, 1, 2, 3], "tickSize": -7, "labels": false, "title": null}},
               "y": {"field": "lo", "type": "quantitative", "axis": {"orient": "left", "values": [0.45, 0.5, 0.55, 0.6, 0.65, 0.7, 0.75, 0.8, 0.85, 0.9, 0.95, 1, 1.05, 1.1, 1.15, 1.2, 1.25, 1.3, 1.35], "tickSize": -3.5, "labels": false, "title": null}},
               "y2": {"field": "hi"}}},
            {"data": {"name": "pts"}, "transform": [{"filter": "datum.row == 'r3' && datum.bin == 1 && datum.kind == 'unsub'"}],
             "mark": {"type": "point", "shape": "circle", "filled": true, "fill": "white", "stroke": "#2a2af0", "strokeWidth": 1.4, "size": 55, "opacity": 1},
             "encoding": {"x": {"field": "x", "type": "quantitative", "axis": {"orient": "top", "values": [0.2, 0.4, 0.6, 0.8, 1.2, 1.4, 1.6, 1.8, 2.2, 2.4, 2.6, 2.8], "tickSize": -3.5, "labels": false, "title": null}},
               "y": {"field": "v", "type": "quantitative", "axis": null}}},
            {"data": {"name": "koz"}, "transform": [{"filter": "datum.row == 'r3' && datum.bin == 1"}],
             "mark": {"type": "line", "color": "black", "strokeWidth": 2},
             "encoding": {"x": {"field": "x", "type": "quantitative", "axis": {"orient": "bottom", "values": [0, 1, 2, 3], "format": "d", "tickSize": -7, "labelPadding": 8, "title": null}},
               "y": {"field": "v", "type": "quantitative", "axis": {"orient": "right", "values": [0.6, 0.8, 1, 1.2], "tickSize": -7, "labels": false, "title": null}}}},
            {"data": {"name": "pts"}, "transform": [{"filter": "datum.row == 'r3' && datum.bin == 1 && datum.kind == 'sub'"}],
             "mark": {"type": "rule", "color": "#ff0000", "strokeWidth": 1.3},
             "encoding": {"x": {"field": "x", "type": "quantitative", "axis": {"orient": "bottom", "values": [0.2, 0.4, 0.6, 0.8, 1.2, 1.4, 1.6, 1.8, 2.2, 2.4, 2.6, 2.8], "tickSize": -3.5, "labels": false, "title": null}},
               "y": {"field": "lo", "type": "quantitative", "axis": {"orient": "right", "values": [0.45, 0.5, 0.55, 0.6, 0.65, 0.7, 0.75, 0.8, 0.85, 0.9, 0.95, 1, 1.05, 1.1, 1.15, 1.2, 1.25, 1.3, 1.35], "tickSize": -3.5, "labels": false, "title": null}},
               "y2": {"field": "hi"}}},
            {"data": {"name": "pts"}, "transform": [{"filter": "datum.row == 'r3' && datum.bin == 1 && datum.kind == 'sub'"}],
             "mark": {"type": "point", "shape": "circle", "filled": true, "color": "#ff0000", "size": 52, "opacity": 1},
             "encoding": {"x": {"field": "x", "type": "quantitative", "axis": null}, "y": {"field": "v", "type": "quantitative", "axis": null}}},
            {"data": {"name": "one"}, "encoding": {"x": {"datum": 0.31, "type": "quantitative", "axis": null}, "y": {"datum": 1.277, "type": "quantitative", "axis": null}},
             "layer": [
               {"mark": {"type": "text", "text": "N", "align": "left", "baseline": "middle", "fontSize": 11.5}},
               {"mark": {"type": "text", "text": "rec", "align": "left", "baseline": "middle", "fontSize": 7.5, "dx": 9, "dy": -5}},
               {"mark": {"type": "text", "text": "ch", "align": "left", "baseline": "middle", "fontSize": 7.5, "dx": 9, "dy": 4}},
               {"mark": {"type": "text", "text": "≥ 220, 2 <|Δη|< 5", "align": "left", "baseline": "middle", "fontSize": 11.5, "dx": 21}}
             ]},
            {"data": {"name": "one"}, "mark": {"type": "rule", "color": "#2a2af0", "strokeWidth": 1.3},
             "encoding": {"x": {"datum": 0.23, "type": "quantitative", "axis": null}, "x2": {"datum": 0.56}, "y": {"datum": 0.817, "type": "quantitative", "axis": null}}},
            {"data": {"name": "one"}, "mark": {"type": "point", "shape": "circle", "filled": true, "fill": "white", "stroke": "#2a2af0", "strokeWidth": 1.4, "size": 55, "opacity": 1},
             "encoding": {"x": {"datum": 0.39, "type": "quantitative", "axis": null}, "y": {"datum": 0.817, "type": "quantitative", "axis": null}}},
            {"data": {"name": "one"}, "mark": {"type": "rule", "color": "#ff0000", "strokeWidth": 1.3},
             "encoding": {"x": {"datum": 0.23, "type": "quantitative", "axis": null}, "x2": {"datum": 0.56}, "y": {"datum": 0.725, "type": "quantitative", "axis": null}}},
            {"data": {"name": "one"}, "mark": {"type": "point", "shape": "circle", "filled": true, "color": "#ff0000", "size": 52, "opacity": 1},
             "encoding": {"x": {"datum": 0.39, "type": "quantitative", "axis": null}, "y": {"datum": 0.725, "type": "quantitative", "axis": null}}},
            {"data": {"name": "one"}, "mark": {"type": "rule", "color": "black", "strokeWidth": 2},
             "encoding": {"x": {"datum": 0.23, "type": "quantitative", "axis": null}, "x2": {"datum": 0.56}, "y": {"datum": 0.63, "type": "quantitative", "axis": null}}},
            {"data": {"name": "one"}, "encoding": {"x": {"datum": 0.64, "type": "quantitative", "axis": null}, "y": {"datum": 0.817, "type": "quantitative", "axis": null}},
             "layer": [
               {"mark": {"type": "text", "text": "r", "align": "left", "baseline": "middle", "fontSize": 14, "dy": -1}},
               {"mark": {"type": "text", "text": "unsub", "align": "left", "baseline": "middle", "fontSize": 9.5, "dx": 8, "dy": -7}},
               {"mark": {"type": "text", "text": "3", "align": "left", "baseline": "middle", "fontSize": 9.5, "dx": 8, "dy": 5}}
             ]},
            {"data": {"name": "one"}, "encoding": {"x": {"datum": 0.64, "type": "quantitative", "axis": null}, "y": {"datum": 0.725, "type": "quantitative", "axis": null}},
             "layer": [
               {"mark": {"type": "text", "text": "r", "align": "left", "baseline": "middle", "fontSize": 14, "dy": -1}},
               {"mark": {"type": "text", "text": "3", "align": "left", "baseline": "middle", "fontSize": 9.5, "dx": 8, "dy": 5}}
             ]},
            {"data": {"name": "one"}, "mark": {"type": "text", "text": "Kozlov et.al.", "align": "left", "baseline": "middle", "fontSize": 11.5},
             "encoding": {"x": {"datum": 0.64, "type": "quantitative", "axis": null}, "y": {"datum": 0.63, "type": "quantitative", "axis": null}}},
            {"data": {"name": "one"}, "encoding": {"x": {"datum": 0.84, "type": "quantitative", "axis": null}, "y": {"datum": 0.527, "type": "quantitative", "axis": null}},
             "layer": [
               {"mark": {"type": "text", "text": "1.5 < p", "align": "right", "baseline": "middle", "fontSize": 10}},
               {"mark": {"type": "text", "text": "b", "align": "left", "baseline": "middle", "fontSize": 7, "dx": 0.5, "dy": -4}},
               {"mark": {"type": "text", "text": "T", "align": "left", "baseline": "middle", "fontSize": 7, "dx": 0.5, "dy": 4}},
               {"mark": {"type": "text", "text": "< 2 GeV", "align": "left", "baseline": "middle", "fontSize": 10, "dx": 8.5}}
             ]},
            {"data": {"name": "one"}, "encoding": {"x": {"datum": 1.42, "type": "quantitative", "axis": null}, "y": {"datum": 0.435, "type": "quantitative", "axis": null}},
             "layer": [
               {"mark": {"type": "text", "text": "p", "align": "left", "baseline": "middle", "fontSize": 13, "dy": 21}},
               {"mark": {"type": "text", "text": "b", "align": "left", "baseline": "middle", "fontSize": 9, "dx": 7, "dy": 15}},
               {"mark": {"type": "text", "text": "T", "align": "left", "baseline": "middle", "fontSize": 9, "dx": 7, "dy": 27}},
               {"mark": {"type": "text", "text": "-", "align": "left", "baseline": "middle", "fontSize": 13, "dx": 14.5, "dy": 21}},
               {"mark": {"type": "text", "text": "p", "align": "left", "baseline": "middle", "fontSize": 13, "dx": 21.5, "dy": 21}},
               {"mark": {"type": "text", "text": "a", "align": "left", "baseline": "middle", "fontSize": 9, "dx": 28.5, "dy": 15}},
               {"mark": {"type": "text", "text": "T", "align": "left", "baseline": "middle", "fontSize": 9, "dx": 28.5, "dy": 27}},
               {"mark": {"type": "text", "text": "[GeV]", "align": "left", "baseline": "middle", "fontSize": 13, "dx": 40, "dy": 21}}
             ]}
          ]
        },
        {
          "width": 156, "height": 166,
          "resolve": {"axis": {"x": "independent", "y": "independent"}},
          "layer": [
            {"data": {"name": "one"}, "mark": {"type": "rule", "strokeDash": [2, 2], "color": "#444", "strokeWidth": 1},
             "encoding": {"y": {"datum": 1, "type": "quantitative", "scale": {"domain": [0.435, 1.35], "nice": false, "zero": false},
               "axis": {"orient": "left", "values": [0.6, 0.8, 1, 1.2], "tickSize": -7, "labels": false, "title": null}}}},
            {"data": {"name": "pts"}, "transform": [{"filter": "datum.row == 'r3' && datum.bin == 2 && datum.kind == 'unsub'"}],
             "mark": {"type": "rule", "color": "#2a2af0", "strokeWidth": 1.3},
             "encoding": {"x": {"field": "x", "type": "quantitative", "scale": {"domain": [0, 3.12], "nice": false, "zero": false}, "axis": {"orient": "top", "values": [0, 1, 2, 3], "tickSize": -7, "labels": false, "title": null}},
               "y": {"field": "lo", "type": "quantitative", "axis": {"orient": "left", "values": [0.45, 0.5, 0.55, 0.6, 0.65, 0.7, 0.75, 0.8, 0.85, 0.9, 0.95, 1, 1.05, 1.1, 1.15, 1.2, 1.25, 1.3, 1.35], "tickSize": -3.5, "labels": false, "title": null}},
               "y2": {"field": "hi"}}},
            {"data": {"name": "pts"}, "transform": [{"filter": "datum.row == 'r3' && datum.bin == 2 && datum.kind == 'unsub'"}],
             "mark": {"type": "point", "shape": "circle", "filled": true, "fill": "white", "stroke": "#2a2af0", "strokeWidth": 1.4, "size": 55, "opacity": 1},
             "encoding": {"x": {"field": "x", "type": "quantitative", "axis": {"orient": "top", "values": [0.2, 0.4, 0.6, 0.8, 1.2, 1.4, 1.6, 1.8, 2.2, 2.4, 2.6, 2.8], "tickSize": -3.5, "labels": false, "title": null}},
               "y": {"field": "v", "type": "quantitative", "axis": null}}},
            {"data": {"name": "koz"}, "transform": [{"filter": "datum.row == 'r3' && datum.bin == 2"}],
             "mark": {"type": "line", "color": "black", "strokeWidth": 2},
             "encoding": {"x": {"field": "x", "type": "quantitative", "axis": {"orient": "bottom", "values": [0, 1, 2, 3], "format": "d", "tickSize": -7, "labelPadding": 8, "title": null}},
               "y": {"field": "v", "type": "quantitative", "axis": {"orient": "right", "values": [0.6, 0.8, 1, 1.2], "tickSize": -7, "labels": false, "title": null}}}},
            {"data": {"name": "pts"}, "transform": [{"filter": "datum.row == 'r3' && datum.bin == 2 && datum.kind == 'sub'"}],
             "mark": {"type": "rule", "color": "#ff0000", "strokeWidth": 1.3},
             "encoding": {"x": {"field": "x", "type": "quantitative", "axis": {"orient": "bottom", "values": [0.2, 0.4, 0.6, 0.8, 1.2, 1.4, 1.6, 1.8, 2.2, 2.4, 2.6, 2.8], "tickSize": -3.5, "labels": false, "title": null}},
               "y": {"field": "lo", "type": "quantitative", "axis": {"orient": "right", "values": [0.45, 0.5, 0.55, 0.6, 0.65, 0.7, 0.75, 0.8, 0.85, 0.9, 0.95, 1, 1.05, 1.1, 1.15, 1.2, 1.25, 1.3, 1.35], "tickSize": -3.5, "labels": false, "title": null}},
               "y2": {"field": "hi"}}},
            {"data": {"name": "pts"}, "transform": [{"filter": "datum.row == 'r3' && datum.bin == 2 && datum.kind == 'sub'"}],
             "mark": {"type": "point", "shape": "circle", "filled": true, "color": "#ff0000", "size": 52, "opacity": 1},
             "encoding": {"x": {"field": "x", "type": "quantitative", "axis": null}, "y": {"field": "v", "type": "quantitative", "axis": null}}},
            {"data": {"name": "one"}, "encoding": {"x": {"datum": 0.166, "type": "quantitative", "axis": null}, "y": {"datum": 0.844, "type": "quantitative", "axis": null}},
             "layer": [
               {"mark": {"type": "text", "text": "ATLAS", "align": "left", "baseline": "middle", "fontSize": 10, "fontWeight": "bold", "fontStyle": "italic"}},
               {"mark": {"type": "text", "text": "p+Pb", "align": "left", "baseline": "middle", "fontSize": 9.5, "dx": 37}}
             ]},
            {"data": {"name": "one"}, "encoding": {"x": {"datum": 0.166, "type": "quantitative", "axis": null}, "y": {"datum": 0.74, "type": "quantitative", "axis": null}},
             "layer": [
               {"mark": {"type": "text", "text": "√", "align": "left", "baseline": "middle", "fontSize": 12, "dx": 3}},
               {"mark": {"type": "text", "text": "‾‾‾‾", "align": "left", "baseline": "middle", "fontSize": 8, "dx": 9, "dy": -5}},
               {"mark": {"type": "text", "text": "s", "align": "left", "baseline": "middle", "fontSize": 10, "dx": 9.5}},
               {"mark": {"type": "text", "text": "NN", "align": "left", "baseline": "middle", "fontSize": 6.5, "dx": 14, "dy": 3.5}},
               {"mark": {"type": "text", "text": "= 5.02 TeV", "align": "left", "baseline": "middle", "fontSize": 10, "dx": 25}}
             ]},
            {"data": {"name": "one"}, "encoding": {"x": {"datum": 0.166, "type": "quantitative", "axis": null}, "y": {"datum": 0.646, "type": "quantitative", "axis": null}},
             "layer": [
               {"mark": {"type": "text", "text": "L", "align": "left", "baseline": "middle", "fontSize": 10, "dx": 5}},
               {"mark": {"type": "text", "text": "int", "align": "left", "baseline": "middle", "fontSize": 6.5, "dx": 10.8, "dy": 3.5}},
               {"mark": {"type": "text", "text": "= 28 nb", "align": "left", "baseline": "middle", "fontSize": 10, "dx": 19.5}},
               {"mark": {"type": "text", "text": "-1", "align": "left", "baseline": "middle", "fontSize": 6.5, "dx": 53.5, "dy": -4}}
             ]},
            {"data": {"name": "one"}, "encoding": {"x": {"datum": 1.13, "type": "quantitative", "axis": null}, "y": {"datum": 0.514, "type": "quantitative", "axis": null}},
             "layer": [
               {"mark": {"type": "text", "text": "2 < p", "align": "right", "baseline": "middle", "fontSize": 10}},
               {"mark": {"type": "text", "text": "b", "align": "left", "baseline": "middle", "fontSize": 7, "dx": 0.5, "dy": -4}},
               {"mark": {"type": "text", "text": "T", "align": "left", "baseline": "middle", "fontSize": 7, "dx": 0.5, "dy": 4}},
               {"mark": {"type": "text", "text": "< 2.5 GeV", "align": "left", "baseline": "middle", "fontSize": 10, "dx": 8.5}}
             ]},
            {"data": {"name": "one"}, "encoding": {"x": {"datum": 1.42, "type": "quantitative", "axis": null}, "y": {"datum": 0.435, "type": "quantitative", "axis": null}},
             "layer": [
               {"mark": {"type": "text", "text": "p", "align": "left", "baseline": "middle", "fontSize": 13, "dy": 21}},
               {"mark": {"type": "text", "text": "b", "align": "left", "baseline": "middle", "fontSize": 9, "dx": 7, "dy": 15}},
               {"mark": {"type": "text", "text": "T", "align": "left", "baseline": "middle", "fontSize": 9, "dx": 7, "dy": 27}},
               {"mark": {"type": "text", "text": "-", "align": "left", "baseline": "middle", "fontSize": 13, "dx": 14.5, "dy": 21}},
               {"mark": {"type": "text", "text": "p", "align": "left", "baseline": "middle", "fontSize": 13, "dx": 21.5, "dy": 21}},
               {"mark": {"type": "text", "text": "a", "align": "left", "baseline": "middle", "fontSize": 9, "dx": 28.5, "dy": 15}},
               {"mark": {"type": "text", "text": "T", "align": "left", "baseline": "middle", "fontSize": 9, "dx": 28.5, "dy": 27}},
               {"mark": {"type": "text", "text": "[GeV]", "align": "left", "baseline": "middle", "fontSize": 13, "dx": 40, "dy": 21}}
             ]}
          ]
        },
        {
          "width": 156, "height": 166,
          "resolve": {"axis": {"x": "independent", "y": "independent"}},
          "layer": [
            {"data": {"name": "one"}, "mark": {"type": "rule", "strokeDash": [2, 2], "color": "#444", "strokeWidth": 1},
             "encoding": {"y": {"datum": 1, "type": "quantitative", "scale": {"domain": [0.435, 1.35], "nice": false, "zero": false},
               "axis": {"orient": "left", "values": [0.6, 0.8, 1, 1.2], "tickSize": -7, "labels": false, "title": null}}}},
            {"data": {"name": "pts"}, "transform": [{"filter": "datum.row == 'r3' && datum.bin == 3 && datum.kind == 'unsub'"}],
             "mark": {"type": "rule", "color": "#2a2af0", "strokeWidth": 1.3},
             "encoding": {"x": {"field": "x", "type": "quantitative", "scale": {"domain": [0, 3.12], "nice": false, "zero": false}, "axis": {"orient": "top", "values": [0, 1, 2, 3], "tickSize": -7, "labels": false, "title": null}},
               "y": {"field": "lo", "type": "quantitative", "axis": {"orient": "left", "values": [0.45, 0.5, 0.55, 0.6, 0.65, 0.7, 0.75, 0.8, 0.85, 0.9, 0.95, 1, 1.05, 1.1, 1.15, 1.2, 1.25, 1.3, 1.35], "tickSize": -3.5, "labels": false, "title": null}},
               "y2": {"field": "hi"}}},
            {"data": {"name": "pts"}, "transform": [{"filter": "datum.row == 'r3' && datum.bin == 3 && datum.kind == 'unsub'"}],
             "mark": {"type": "point", "shape": "circle", "filled": true, "fill": "white", "stroke": "#2a2af0", "strokeWidth": 1.4, "size": 55, "opacity": 1},
             "encoding": {"x": {"field": "x", "type": "quantitative", "axis": {"orient": "top", "values": [0.2, 0.4, 0.6, 0.8, 1.2, 1.4, 1.6, 1.8, 2.2, 2.4, 2.6, 2.8], "tickSize": -3.5, "labels": false, "title": null}},
               "y": {"field": "v", "type": "quantitative", "axis": null}}},
            {"data": {"name": "koz"}, "transform": [{"filter": "datum.row == 'r3' && datum.bin == 3"}],
             "mark": {"type": "line", "color": "black", "strokeWidth": 2},
             "encoding": {"x": {"field": "x", "type": "quantitative", "axis": {"orient": "bottom", "values": [0, 1, 2, 3], "format": "d", "tickSize": -7, "labelPadding": 8, "title": null}},
               "y": {"field": "v", "type": "quantitative", "axis": {"orient": "right", "values": [0.6, 0.8, 1, 1.2], "tickSize": -7, "labels": false, "title": null}}}},
            {"data": {"name": "pts"}, "transform": [{"filter": "datum.row == 'r3' && datum.bin == 3 && datum.kind == 'sub'"}],
             "mark": {"type": "rule", "color": "#ff0000", "strokeWidth": 1.3},
             "encoding": {"x": {"field": "x", "type": "quantitative", "axis": {"orient": "bottom", "values": [0.2, 0.4, 0.6, 0.8, 1.2, 1.4, 1.6, 1.8, 2.2, 2.4, 2.6, 2.8], "tickSize": -3.5, "labels": false, "title": null}},
               "y": {"field": "lo", "type": "quantitative", "axis": {"orient": "right", "values": [0.45, 0.5, 0.55, 0.6, 0.65, 0.7, 0.75, 0.8, 0.85, 0.9, 0.95, 1, 1.05, 1.1, 1.15, 1.2, 1.25, 1.3, 1.35], "tickSize": -3.5, "labels": false, "title": null}},
               "y2": {"field": "hi"}}},
            {"data": {"name": "pts"}, "transform": [{"filter": "datum.row == 'r3' && datum.bin == 3 && datum.kind == 'sub'"}],
             "mark": {"type": "point", "shape": "circle", "filled": true, "color": "#ff0000", "size": 52, "opacity": 1},
             "encoding": {"x": {"field": "x", "type": "quantitative", "axis": null}, "y": {"field": "v", "type": "quantitative", "axis": null}}},
            {"data": {"name": "one"}, "encoding": {"x": {"datum": 1.27, "type": "quantitative", "axis": null}, "y": {"datum": 0.514, "type": "quantitative", "axis": null}},
             "layer": [
               {"mark": {"type": "text", "text": "2.5 < p", "align": "right", "baseline": "middle", "fontSize": 10}},
               {"mark": {"type": "text", "text": "b", "align": "left", "baseline": "middle", "fontSize": 7, "dx": 0.5, "dy": -4}},
               {"mark": {"type": "text", "text": "T", "align": "left", "baseline": "middle", "fontSize": 7, "dx": 0.5, "dy": 4}},
               {"mark": {"type": "text", "text": "< 3 GeV", "align": "left", "baseline": "middle", "fontSize": 10, "dx": 8.5}}
             ]},
            {"data": {"name": "one"}, "encoding": {"x": {"datum": 1.42, "type": "quantitative", "axis": null}, "y": {"datum": 0.435, "type": "quantitative", "axis": null}},
             "layer": [
               {"mark": {"type": "text", "text": "p", "align": "left", "baseline": "middle", "fontSize": 13, "dy": 21}},
               {"mark": {"type": "text", "text": "b", "align": "left", "baseline": "middle", "fontSize": 9, "dx": 7, "dy": 15}},
               {"mark": {"type": "text", "text": "T", "align": "left", "baseline": "middle", "fontSize": 9, "dx": 7, "dy": 27}},
               {"mark": {"type": "text", "text": "-", "align": "left", "baseline": "middle", "fontSize": 13, "dx": 14.5, "dy": 21}},
               {"mark": {"type": "text", "text": "p", "align": "left", "baseline": "middle", "fontSize": 13, "dx": 21.5, "dy": 21}},
               {"mark": {"type": "text", "text": "a", "align": "left", "baseline": "middle", "fontSize": 9, "dx": 28.5, "dy": 15}},
               {"mark": {"type": "text", "text": "T", "align": "left", "baseline": "middle", "fontSize": 9, "dx": 28.5, "dy": 27}},
               {"mark": {"type": "text", "text": "[GeV]", "align": "left", "baseline": "middle", "fontSize": 13, "dx": 40, "dy": 21}}
             ]}
          ]
        },
        {
          "width": 156, "height": 166,
          "resolve": {"axis": {"x": "independent", "y": "independent"}},
          "layer": [
            {"data": {"name": "one"}, "mark": {"type": "rule", "strokeDash": [2, 2], "color": "#444", "strokeWidth": 1},
             "encoding": {"y": {"datum": 1, "type": "quantitative", "scale": {"domain": [0.435, 1.35], "nice": false, "zero": false},
               "axis": {"orient": "left", "values": [0.6, 0.8, 1, 1.2], "tickSize": -7, "labels": false, "title": null}}}},
            {"data": {"name": "pts"}, "transform": [{"filter": "datum.row == 'r3' && datum.bin == 4 && datum.kind == 'unsub'"}],
             "mark": {"type": "rule", "color": "#2a2af0", "strokeWidth": 1.3},
             "encoding": {"x": {"field": "x", "type": "quantitative", "scale": {"domain": [0, 3.12], "nice": false, "zero": false}, "axis": {"orient": "top", "values": [0, 1, 2, 3], "tickSize": -7, "labels": false, "title": null}},
               "y": {"field": "lo", "type": "quantitative", "axis": {"orient": "left", "values": [0.45, 0.5, 0.55, 0.6, 0.65, 0.7, 0.75, 0.8, 0.85, 0.9, 0.95, 1, 1.05, 1.1, 1.15, 1.2, 1.25, 1.3, 1.35], "tickSize": -3.5, "labels": false, "title": null}},
               "y2": {"field": "hi"}}},
            {"data": {"name": "pts"}, "transform": [{"filter": "datum.row == 'r3' && datum.bin == 4 && datum.kind == 'unsub'"}],
             "mark": {"type": "point", "shape": "circle", "filled": true, "fill": "white", "stroke": "#2a2af0", "strokeWidth": 1.4, "size": 55, "opacity": 1},
             "encoding": {"x": {"field": "x", "type": "quantitative", "axis": {"orient": "top", "values": [0.2, 0.4, 0.6, 0.8, 1.2, 1.4, 1.6, 1.8, 2.2, 2.4, 2.6, 2.8], "tickSize": -3.5, "labels": false, "title": null}},
               "y": {"field": "v", "type": "quantitative", "axis": null}}},
            {"data": {"name": "koz"}, "transform": [{"filter": "datum.row == 'r3' && datum.bin == 4"}],
             "mark": {"type": "line", "color": "black", "strokeWidth": 2},
             "encoding": {"x": {"field": "x", "type": "quantitative", "axis": {"orient": "bottom", "values": [0, 1, 2, 3], "format": "d", "tickSize": -7, "labelPadding": 8, "title": null}},
               "y": {"field": "v", "type": "quantitative", "axis": {"orient": "right", "values": [0.6, 0.8, 1, 1.2], "tickSize": -7, "labels": false, "title": null}}}},
            {"data": {"name": "pts"}, "transform": [{"filter": "datum.row == 'r3' && datum.bin == 4 && datum.kind == 'sub'"}],
             "mark": {"type": "rule", "color": "#ff0000", "strokeWidth": 1.3},
             "encoding": {"x": {"field": "x", "type": "quantitative", "axis": {"orient": "bottom", "values": [0.2, 0.4, 0.6, 0.8, 1.2, 1.4, 1.6, 1.8, 2.2, 2.4, 2.6, 2.8], "tickSize": -3.5, "labels": false, "title": null}},
               "y": {"field": "lo", "type": "quantitative", "axis": {"orient": "right", "values": [0.45, 0.5, 0.55, 0.6, 0.65, 0.7, 0.75, 0.8, 0.85, 0.9, 0.95, 1, 1.05, 1.1, 1.15, 1.2, 1.25, 1.3, 1.35], "tickSize": -3.5, "labels": false, "title": null}},
               "y2": {"field": "hi"}}},
            {"data": {"name": "pts"}, "transform": [{"filter": "datum.row == 'r3' && datum.bin == 4 && datum.kind == 'sub'"}],
             "mark": {"type": "point", "shape": "circle", "filled": true, "color": "#ff0000", "size": 52, "opacity": 1},
             "encoding": {"x": {"field": "x", "type": "quantitative", "axis": null}, "y": {"field": "v", "type": "quantitative", "axis": null}}},
            {"data": {"name": "one"}, "encoding": {"x": {"datum": 1.14, "type": "quantitative", "axis": null}, "y": {"datum": 0.514, "type": "quantitative", "axis": null}},
             "layer": [
               {"mark": {"type": "text", "text": "3 < p", "align": "right", "baseline": "middle", "fontSize": 10}},
               {"mark": {"type": "text", "text": "b", "align": "left", "baseline": "middle", "fontSize": 7, "dx": 0.5, "dy": -4}},
               {"mark": {"type": "text", "text": "T", "align": "left", "baseline": "middle", "fontSize": 7, "dx": 0.5, "dy": 4}},
               {"mark": {"type": "text", "text": "< 4 GeV", "align": "left", "baseline": "middle", "fontSize": 10, "dx": 8.5}}
             ]},
            {"data": {"name": "one"}, "encoding": {"x": {"datum": 1.42, "type": "quantitative", "axis": null}, "y": {"datum": 0.435, "type": "quantitative", "axis": null}},
             "layer": [
               {"mark": {"type": "text", "text": "p", "align": "left", "baseline": "middle", "fontSize": 13, "dy": 21}},
               {"mark": {"type": "text", "text": "b", "align": "left", "baseline": "middle", "fontSize": 9, "dx": 7, "dy": 15}},
               {"mark": {"type": "text", "text": "T", "align": "left", "baseline": "middle", "fontSize": 9, "dx": 7, "dy": 27}},
               {"mark": {"type": "text", "text": "-", "align": "left", "baseline": "middle", "fontSize": 13, "dx": 14.5, "dy": 21}},
               {"mark": {"type": "text", "text": "p", "align": "left", "baseline": "middle", "fontSize": 13, "dx": 21.5, "dy": 21}},
               {"mark": {"type": "text", "text": "a", "align": "left", "baseline": "middle", "fontSize": 9, "dx": 28.5, "dy": 15}},
               {"mark": {"type": "text", "text": "T", "align": "left", "baseline": "middle", "fontSize": 9, "dx": 28.5, "dy": 27}},
               {"mark": {"type": "text", "text": "[GeV]", "align": "left", "baseline": "middle", "fontSize": 13, "dx": 40, "dy": 21}}
             ]}
          ]
        }
      ]
    }
  ]
}
